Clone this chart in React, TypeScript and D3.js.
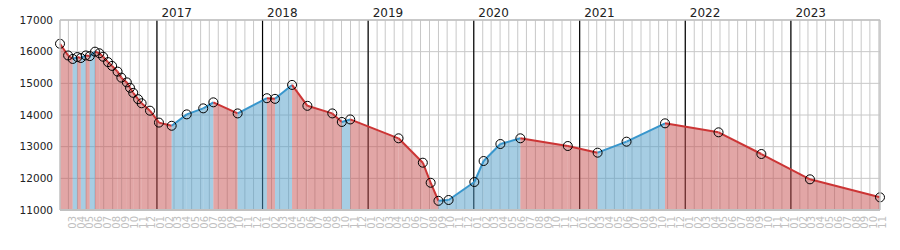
import React from "react";
import * as d3 from "d3";

const dates: string[] = [
  "2016-02-01", "2016-02-29", "2016-03-16", "2016-04-01", "2016-04-13", "2016-04-30",
  "2016-05-14", "2016-06-01", "2016-06-16", "2016-06-29", "2016-07-16", "2016-07-30",
  "2016-08-18", "2016-08-31", "2016-09-19", "2016-09-30", "2016-10-11", "2016-10-28",
  "2016-11-09", "2016-12-08", "2017-01-08", "2017-02-21", "2017-04-14", "2017-06-10",
  "2017-07-15", "2017-10-07", "2018-01-16", "2018-02-13", "2018-04-13", "2018-06-05",
  "2018-08-30", "2018-10-02", "2018-10-31", "2019-04-16", "2019-07-09", "2019-08-05",
  "2019-09-01", "2019-10-06", "2020-01-03", "2020-02-04", "2020-04-02", "2020-06-10",
  "2020-11-21", "2021-03-04", "2021-06-12", "2021-10-23", "2022-04-26", "2022-09-21",
  "2023-03-08", "2023-11-05",
];

const values: number[] = [
  16250, 15880, 15770, 15830, 15800, 15880,
  15860, 16000, 15950, 15840, 15670, 15550,
  15370, 15180, 15030, 14860, 14700, 14500,
  14370, 14136, 13760, 13660, 14020, 14210,
  14400, 14050, 14530, 14510, 14950, 14290,
  14050, 13780, 13860, 13264, 12494, 11860,
  11290, 11316, 11884, 12547, 13084, 13264,
  13021, 12810, 13158, 13737, 13453, 12768,
  11969, 11400,
];

const yTicks: number[] = [11000, 12000, 13000, 14000, 15000, 16000, 17000];
const yearLabels: string[] = ["2017", "2018", "2019", "2020", "2021", "2022", "2023"];

const W = 900;
const H = 250;
const X0 = 60;
const X1 = 880;
const Y0 = 20;
const Y1 = 210;

const UP_LINE = "#3896cc";
const DOWN_LINE = "#cc3535";
const UP_FILL = "rgb(77,155,199)";
const DOWN_FILL = "rgb(197,77,77)";

export default function App() {
  const parse = d3.timeParse("%Y-%m-%d");
  const pts = dates.map((d, i) => ({ date: parse(d) as Date, value: values[i] }));
  const x = d3
    .scaleTime()
    .domain(d3.extent(pts, (p) => p.date) as [Date, Date])
    .range([X0, X1]);
  const y = d3.scaleLinear().domain([11000, 17000]).range([Y1, Y0]);

  const months = d3.timeMonth.range(d3.timeMonth.ceil(x.domain()[0]), x.domain()[1]).filter((m) => +m > +x.domain()[0]);
  const monthsForLabels = d3.timeMonth.range(d3.timeMonth.offset(d3.timeMonth.floor(x.domain()[0]), 1), x.domain()[1]);
  const years = yearLabels.map((s) => parse(s + "-01-01") as Date);

  const area = d3
    .area<{ date: Date; value: number }>()
    .x((p) => x(p.date))
    .y0(Y1)
    .y1((p) => y(p.value));
  const line = d3
    .line<{ date: Date; value: number }>()
    .x((p) => x(p.date))
    .y((p) => y(p.value));

  const segs = pts.slice(0, -1).map((p, i) => {
    const q = pts[i + 1];
    return { pair: [p, q], up: q.value > p.value };
  });

  const fmtMonth = d3.timeFormat("%m");

  return (
    <svg
      width={W}
      height={H}
      style={{ position: "absolute", left: 0, top: 0, background: "#fff" }}
      fontFamily="DejaVu Sans, Verdana, sans-serif"
    >
      <rect x={0} y={0} width={W} height={H} fill="#fff" />
      {/* horizontal grid */}
      {yTicks.map((t) => (
        <line key={"h" + t} x1={X0} x2={X1} y1={y(t)} y2={y(t)} stroke="#c8c8c8" strokeWidth={1} />
      ))}
      {/* month grid */}
      {months.map((m, i) => (
        <line key={"m" + i} x1={x(m)} x2={x(m)} y1={Y0} y2={Y1} stroke="#c8c8c8" strokeWidth={1} />
      ))}
      {/* year lines */}
      {years.map((yr, i) => (
        <line key={"y" + i} x1={x(yr)} x2={x(yr)} y1={Y0} y2={Y1} stroke="#000" strokeWidth={1.2} />
      ))}
      {/* areas */}
      {segs.map((s, i) => (
        <path key={"a" + i} d={area(s.pair) as string} fill={s.up ? UP_FILL : DOWN_FILL} fillOpacity={0.5} stroke="none" />
      ))}
      {/* lines */}
      {segs.map((s, i) => (
        <path key={"l" + i} d={line(s.pair) as string} fill="none" stroke={s.up ? UP_LINE : DOWN_LINE} strokeWidth={2} />
      ))}
      {/* points */}
      {pts.map((p, i) => (
        <circle key={"c" + i} cx={x(p.date)} cy={y(p.value)} r={4.5} fill="none" stroke="#000" strokeWidth={1} />
      ))}
      {/* border */}
      <line x1={X0} x2={X1} y1={Y0} y2={Y0} stroke="#c0c0c0" strokeWidth={1.5} />
      <line x1={X0} x2={X0} y1={Y0} y2={Y1} stroke="#c0c0c0" strokeWidth={1.5} />
      <line x1={X1} x2={X1} y1={Y0} y2={Y1} stroke="#c0c0c0" strokeWidth={1.5} />
      <line x1={X0} x2={X1} y1={Y1} y2={Y1} stroke="#c0c0c0" strokeWidth={2} />
      {/* y labels */}
      {yTicks.map((t) => (
        <text key={"yl" + t} x={53} y={y(t)} dy="0.36em" textAnchor="end" fontSize={10.5} fill="#222">
          {t}
        </text>
      ))}
      {/* year labels */}
      {years.map((yr, i) => (
        <text key={"yt" + i} x={x(yr) + 4.5} y={16.5} fontSize={12} fill="#222">
          {yearLabels[i]}
        </text>
      ))}
      {/* month labels */}
      {monthsForLabels.map((m, i) => (
        <text
          key={"ml" + i}
          transform={`translate(${x(m) + 7.3},216) rotate(-90)`}
          textAnchor="end"
          fontSize={10}
          fill="#c0c0c0"
        >
          {fmtMonth(m)}
        </text>
      ))}
    </svg>
  );
}
